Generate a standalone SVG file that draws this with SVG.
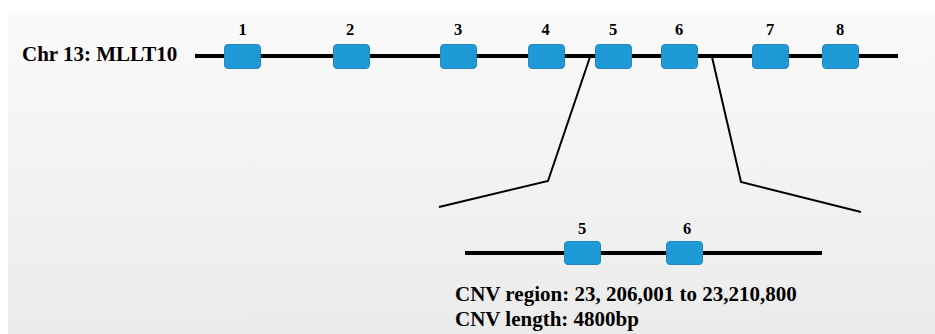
<svg xmlns="http://www.w3.org/2000/svg" width="935" height="334" viewBox="0 0 935 334">
  <defs>
    <linearGradient id="panelFill" x1="0" y1="0" x2="0" y2="1">
      <stop offset="0" stop-color="#fafafa"/>
      <stop offset="1" stop-color="#ebebeb"/>
    </linearGradient>
    <style>
      .exon { fill: #1e9ad6; stroke: #2187bd; stroke-width: 1; }
      .gene { stroke: #000; stroke-width: 4; fill: none; }
      .zoom { stroke: #000; stroke-width: 2; fill: none; }
      .num { font-family: "Liberation Serif", "Times New Roman", serif; font-weight: bold; font-size: 16.5px; fill: #000; text-anchor: middle; }
      .label { font-family: "Liberation Serif", "Times New Roman", serif; font-weight: bold; font-size: 21px; fill: #000; }
    </style>
  </defs>

  <rect x="0" y="0" width="935" height="334" fill="#fff"/>
  <rect x="8" y="12" width="927" height="322" fill="url(#panelFill)"/>

  <!-- chromosome backbone, expansion lines and zoomed backbone -->
  <g id="connectors">
    <line class="gene" x1="195" y1="56" x2="898" y2="56"/>
    <polyline class="zoom" points="590,57 548,181 439,207"/>
    <polyline class="zoom" points="712,57 741,182 861,212"/>
    <line class="gene" x1="465" y1="253" x2="822" y2="253"/>
  </g>

  <text id="gene-label" class="label" x="22" y="61">Chr 13: MLLT10</text>

  <!-- exons on the full gene -->
  <g id="exon1"><rect class="exon" x="224.5" y="44.5" width="36" height="24" rx="3.5"/><text class="num" x="242.5" y="35">1</text></g>
  <g id="exon2"><rect class="exon" x="333.5" y="44.5" width="36" height="24" rx="3.5"/><text class="num" x="350" y="35">2</text></g>
  <g id="exon3"><rect class="exon" x="440.5" y="44.5" width="36" height="24" rx="3.5"/><text class="num" x="458" y="35">3</text></g>
  <g id="exon4"><rect class="exon" x="528.5" y="44.5" width="36" height="24" rx="3.5"/><text class="num" x="545.5" y="35">4</text></g>
  <g id="exon5"><rect class="exon" x="595.5" y="44.5" width="36" height="24" rx="3.5"/><text class="num" x="613" y="35">5</text></g>
  <g id="exon6"><rect class="exon" x="661.5" y="44.5" width="36" height="24" rx="3.5"/><text class="num" x="679" y="35">6</text></g>
  <g id="exon7"><rect class="exon" x="752.5" y="44.5" width="36" height="24" rx="3.5"/><text class="num" x="770" y="35">7</text></g>
  <g id="exon8"><rect class="exon" x="822.5" y="44.5" width="36" height="24" rx="3.5"/><text class="num" x="840" y="35">8</text></g>

  <!-- CNV detail -->
  <g id="cnv-exon5"><rect class="exon" x="564.5" y="241.5" width="36" height="23" rx="3.5"/><text class="num" x="582" y="234">5</text></g>
  <g id="cnv-exon6"><rect class="exon" x="666.5" y="241.5" width="36" height="23" rx="3.5"/><text class="num" x="687" y="234">6</text></g>

  <g id="cnv-info">
    <text class="label" x="455" y="301">CNV region: 23, 206,001 to 23,210,800</text>
    <text class="label" x="455" y="326">CNV length: 4800bp</text>
  </g>
</svg>
